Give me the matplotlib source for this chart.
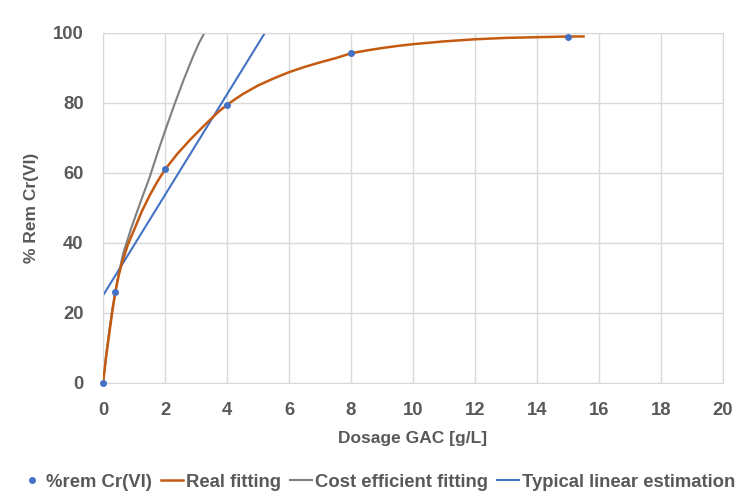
import matplotlib.pyplot as plt

# datos medidos
dosis = [0, 0.4, 2, 4, 8, 15]
rem = [0, 26, 61, 79.5, 94.2, 98.9]

# curva real
x_real = [0, 0.1, 0.2, 0.3, 0.4, 0.5, 0.6, 0.8, 1, 1.25, 1.5, 1.75, 2, 2.4, 2.8, 3.2, 3.7, 4, 4.5, 5, 5.5, 6, 6.5, 7, 7.5, 8,
          8.5, 9, 9.5, 10, 11, 12, 13, 14, 15, 15.5]
y_real = [0, 7.5, 14, 20.5, 26, 30.5, 34, 39.5, 43.7, 49, 53.5, 57.5, 61, 65.5, 69.4, 73, 77.3, 79.5, 82.5, 85, 87, 88.8, 90.3,
          91.6, 92.8, 94.2, 95, 95.7, 96.3, 96.8, 97.6, 98.2, 98.6, 98.8, 99, 99]

# curva costo eficiente
x_costo = [0, 0.1, 0.2, 0.3, 0.4, 0.5, 0.65, 0.9, 1.2, 1.5, 1.75, 2, 2.3, 2.6, 2.9, 3.1, 3.33]
y_costo = [0, 8, 15, 21, 26.5, 31, 37, 44, 51.5, 58.7, 65.5, 72, 79.5, 86.6, 93.2, 97.2, 101]

# estimacion lineal
x_lin = [0, 5.22]
y_lin = [25, 100]

plt.rcParams['font.family'] = ['Liberation Sans', 'DejaVu Sans']
gris_txt = '#595959'
fig = plt.figure(figsize=(7.37, 4.99), dpi=100)
ax = fig.add_axes([0.1398, 0.2325, 0.8412, 0.7014])

ax.plot(x_real, y_real, color='#C55A11', lw=1.8, label='Real fitting', zorder=3)
ax.plot(x_costo, y_costo, color='#7F7F7F', lw=1.5, label='Cost efficient fitting', zorder=2)
ax.plot(x_lin, y_lin, color='#4472C4', lw=1.5, label='Typical linear estimation', zorder=2)
ax.plot(dosis, rem, 'o', color='#4472C4', ms=4, label='%rem Cr(VI)', zorder=4, clip_on=False)

ax.set_xlim(0, 20)
ax.set_ylim(0, 100)
ax.set_xticks(range(0, 21, 2))
ax.set_yticks(range(0, 101, 20))
ax.grid(True, color='#D9D9D9', lw=1)
ax.set_axisbelow(True)
for s in ax.spines.values():
    s.set_color('#D9D9D9')
ax.tick_params(axis='y', length=0, pad=14, labelsize=13.3, labelcolor=gris_txt)
ax.tick_params(axis='x', length=0, pad=14, labelsize=13.3, labelcolor=gris_txt)
for t in ax.get_xticklabels() + ax.get_yticklabels():
    t.set_fontweight('bold')

ax.set_xlabel('Dosage GAC [g/L]', fontsize=12.5, fontweight='bold', color=gris_txt, labelpad=8)
ax.set_ylabel('% Rem Cr(VI)', fontsize=12.5, fontweight='bold', color=gris_txt, labelpad=10)

h, l = ax.get_legend_handles_labels()
orden = [3, 0, 1, 2]
leg = fig.legend([h[i] for i in orden], [l[i] for i in orden], loc='center', bbox_to_anchor=(0.513, 0.034),
                 ncol=4, frameon=False, handlelength=1.2, handletextpad=0.15, columnspacing=0.5,
                 prop={'size': 13.3, 'weight': 'bold'})
for t in leg.get_texts():
    t.set_color(gris_txt)

fig.savefig('out.png', dpi=100)
